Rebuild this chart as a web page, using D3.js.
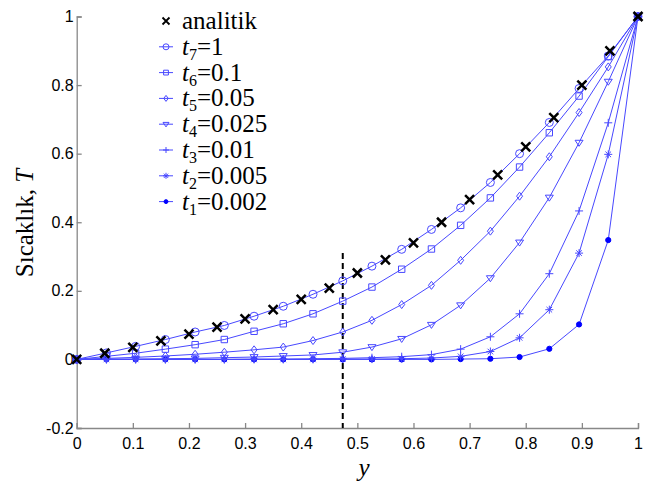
<!DOCTYPE html>
<html>
<head>
<meta charset="utf-8">
<script src="https://d3js.org/d3.v7.min.js"></script>
<style>
body { margin: 0; background: #fff; }
</style>
</head>
<body>
<svg width="653" height="487"></svg>
<script>
var svg = d3.select("svg"),
    margin = {top: 16.5, right: 15, bottom: 59, left: 76.7},
    width = 638 - margin.left,
    height = 428 - margin.top,
    g = svg.append("g").attr("transform", "translate(" + margin.left + "," + margin.top + ")");

var serifFont = "Liberation Serif";
var sansFont = "Liberation Sans";

// analytic solution, sampled every 0.05
var analyticY = [0, 0.05, 0.1, 0.15, 0.2, 0.25, 0.3, 0.35, 0.4, 0.45, 0.5, 0.55, 0.6, 0.65, 0.7, 0.75, 0.8, 0.85, 0.9, 0.95, 1];
var analyticT = [0, 0.018, 0.035, 0.054, 0.074, 0.094, 0.118, 0.145, 0.175, 0.208, 0.252, 0.29, 0.34, 0.40, 0.466, 0.538, 0.62, 0.705, 0.80, 0.90, 1];

// numerical nodes
var nodes = [0, 0.053, 0.105, 0.158, 0.211, 0.263, 0.316, 0.368, 0.421, 0.474, 0.526, 0.579, 0.632, 0.684, 0.737, 0.789, 0.842, 0.895, 0.947, 1];
var t7 = [0, 0.019, 0.038, 0.058, 0.080, 0.099, 0.126, 0.155, 0.190, 0.229, 0.272, 0.321, 0.379, 0.442, 0.516, 0.600, 0.691, 0.790, 0.885, 1];
var t6 = [0, 0.009, 0.018, 0.030, 0.043, 0.058, 0.082, 0.104, 0.133, 0.170, 0.211, 0.263, 0.322, 0.391, 0.471, 0.561, 0.661, 0.768, 0.883, 1];
var t5 = [0, 0.003, 0.006, 0.010, 0.015, 0.021, 0.028, 0.036, 0.055, 0.080, 0.114, 0.160, 0.216, 0.289, 0.374, 0.476, 0.591, 0.720, 0.853, 1];
var t4 = [0, 0.001, 0.001, 0.002, 0.003, 0.005, 0.007, 0.010, 0.013, 0.021, 0.036, 0.060, 0.101, 0.158, 0.237, 0.341, 0.472, 0.632, 0.810, 1];
var t3 = [0, 0, 0, 0, 0, 0, 0.001, 0.001, 0.002, 0.003, 0.005, 0.008, 0.014, 0.030, 0.066, 0.133, 0.250, 0.433, 0.690, 1];
var t2 = [0, 0, 0, 0, 0, 0, 0, 0, 0, 0.001, 0.001, 0.002, 0.004, 0.009, 0.023, 0.063, 0.145, 0.310, 0.598, 1];
var t1 = [0, 0, 0, 0, 0, 0, 0, 0, 0, 0, 0, 0, 0, 0.001, 0.002, 0.007, 0.031, 0.102, 0.348, 1];

var seriesNames = ["t7", "t6", "t5", "t4", "t3", "t2", "t1"];
var seriesSub = ["7", "6", "5", "4", "3", "2", "1"];
var seriesTimes = ["1", "0.1", "0.05", "0.025", "0.01", "0.005", "0.002"];
var seriesValues = [t7, t6, t5, t4, t3, t2, t1];
var seriesMarkers = ["circle", "square", "diamond", "triangle", "plus", "star", "dot"];

var xTicks = [0, 0.1, 0.2, 0.3, 0.4, 0.5, 0.6, 0.7, 0.8, 0.9, 1];
var yTicks = [-0.2, 0, 0.2, 0.4, 0.6, 0.8, 1];

var dashX = 0.474, dashTop = 0.31;

var blue = "#4848ff";

var x = d3.scaleLinear().domain([0, 1]).range([0, width]);
var y = d3.scaleLinear().domain([-0.2, 1]).range([height, 0]);

var fmt = function (d) { return String(+d.toFixed(1)); };

// marker path builder, s = half size
var markerPath = function (type, s) {
    var p = d3.path();
    if (type == "circle") {
        p.arc(0, 0, s, 0, 2 * Math.PI);
    } else if (type == "square") {
        var h = s * 0.8;
        p.rect(-h, -h, 2 * h, 2 * h);
    } else if (type == "diamond") {
        p.moveTo(0, -s); p.lineTo(s * 0.75, 0); p.lineTo(0, s); p.lineTo(-s * 0.75, 0); p.closePath();
    } else if (type == "triangle") {
        p.moveTo(-s, -s * 0.6); p.lineTo(s, -s * 0.6); p.lineTo(0, s * 0.9); p.closePath();
    } else if (type == "plus") {
        p.moveTo(-s, 0); p.lineTo(s, 0); p.moveTo(0, -s); p.lineTo(0, s);
    } else if (type == "star") {
        p.moveTo(-s, 0); p.lineTo(s, 0); p.moveTo(0, -s); p.lineTo(0, s);
        var d = s * 0.7;
        p.moveTo(-d, -d); p.lineTo(d, d); p.moveTo(-d, d); p.lineTo(d, -d);
    } else if (type == "dot") {
        p.arc(0, 0, s * 0.65, 0, 2 * Math.PI);
    } else if (type == "x") {
        p.moveTo(-s, -s); p.lineTo(s, s); p.moveTo(-s, s); p.lineTo(s, -s);
    }
    return p.toString();
};

// axes
var axisColor = "#888";
var xAxis = g.append("g")
    .attr("transform", "translate(0," + height + ")")
    .call(d3.axisBottom(x).tickValues(xTicks).tickSize(-5).tickPadding(10).tickFormat(fmt));
var yAxis = g.append("g")
    .call(d3.axisLeft(y).tickValues(yTicks).tickSize(-5).tickPadding(10).tickFormat(fmt));
[xAxis, yAxis].forEach(function (a) {
    a.attr("font-family", sansFont).attr("font-size", 16);
    a.select(".domain").attr("stroke", axisColor).attr("stroke-width", 1.3);
    a.selectAll(".tick line").attr("stroke", axisColor).attr("stroke-width", 1.3);
    a.selectAll(".tick text").attr("fill", "#000");
});
xAxis.selectAll(".tick text").attr("dy", "0.75em").attr("y", 9);
yAxis.selectAll(".tick text").attr("x", -3);

// dashed line
g.append("line")
    .attr("x1", x(dashX)).attr("x2", x(dashX))
    .attr("y1", y(dashTop)).attr("y2", y(-0.2))
    .attr("stroke", "#000").attr("stroke-width", 2)
    .attr("stroke-dasharray", "6,4");

var line = d3.line()
    .x(function (d) { return x(d[0]); })
    .y(function (d) { return y(d[1]); });

// numerical series (draw t1 first so t7 lies on top)
for (var k = seriesValues.length - 1; k >= 0; k--) {
    var pts = nodes.map(function (n, i) { return [n, seriesValues[k][i]]; });
    var mk = seriesMarkers[k];
    var sg = g.append("g").attr("class", "series " + seriesNames[k]);
    sg.append("path")
        .datum(pts)
        .attr("fill", "none")
        .attr("stroke", blue)
        .attr("stroke-width", 1)
        .attr("d", line);
    sg.selectAll("path.mk")
        .data(pts)
        .enter().append("path")
        .attr("class", "mk")
        .attr("transform", function (d) { return "translate(" + x(d[0]) + "," + y(d[1]) + ")"; })
        .attr("d", markerPath(mk, 4))
        .attr("fill", mk == "dot" ? "#0000ff" : "none")
        .attr("stroke", mk == "dot" ? "#0000ff" : blue)
        .attr("stroke-width", 1);
}

// analytic markers
g.selectAll("path.analytic")
    .data(analyticY)
    .enter().append("path")
    .attr("class", "analytic")
    .attr("transform", function (d, i) { return "translate(" + x(d) + "," + y(analyticT[i]) + ")"; })
    .attr("d", markerPath("x", 4.5))
    .attr("fill", "none")
    .attr("stroke", "#000")
    .attr("stroke-width", 2.5);

// legend
var legend = svg.append("g").attr("transform", "translate(159,21)");
var rowH = 25.8;
var rows = [{label: "analitik", marker: "x"}].concat(seriesNames.map(function (n, i) {
    return {sub: seriesSub[i], val: seriesTimes[i], marker: seriesMarkers[i]};
}));
rows.forEach(function (r, i) {
    var row = legend.append("g").attr("transform", "translate(0," + (i * rowH) + ")");
    var isA = r.marker == "x";
    if (!isA) {
        row.append("line").attr("x1", 0).attr("x2", 14).attr("y1", 0).attr("y2", 0)
            .attr("stroke", blue).attr("stroke-width", 1);
    }
    row.append("path")
        .attr("transform", "translate(7,0)")
        .attr("d", markerPath(r.marker, isA ? 3.5 : 3))
        .attr("fill", r.marker == "dot" ? "#0000ff" : "none")
        .attr("stroke", isA ? "#000" : (r.marker == "dot" ? "#0000ff" : blue))
        .attr("stroke-width", isA ? 1.8 : 1);
    var t = row.append("text").attr("x", 23).attr("y", 8)
        .attr("font-family", serifFont)
        .attr("font-size", 25).attr("fill", "#000");
    if (isA) {
        t.text(r.label);
    } else {
        t.append("tspan").attr("font-style", "italic").text("t");
        t.append("tspan").attr("dy", 5).attr("font-size", 16).text(r.sub);
        t.append("tspan").attr("dy", -5).text("=" + r.val);
    }
});

// axis labels
var yl = svg.append("text")
    .attr("transform", "translate(33,223) rotate(-90)")
    .attr("text-anchor", "middle")
    .attr("font-family", serifFont)
    .attr("font-size", 25);
yl.append("tspan").text("S\u0131cakl\u0131k, ");
yl.append("tspan").attr("font-style", "italic").text("T");
svg.append("text")
    .attr("x", 364).attr("y", 476)
    .attr("text-anchor", "middle")
    .attr("font-family", serifFont)
    .attr("font-size", 25).attr("font-style", "italic")
    .text("y");
</script>
</body>
</html>
